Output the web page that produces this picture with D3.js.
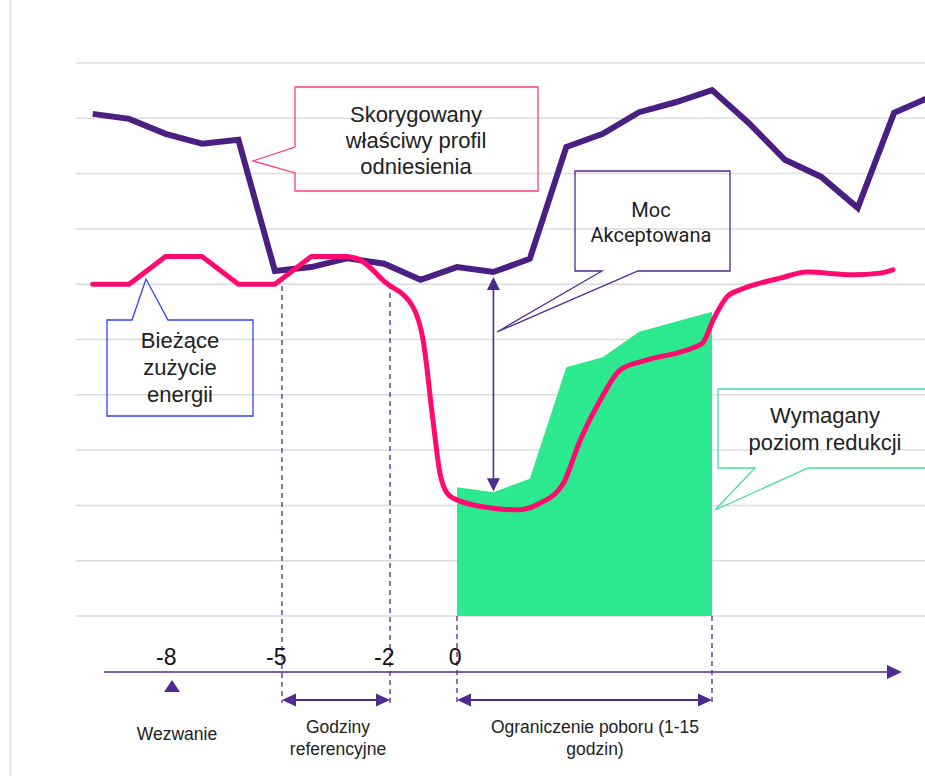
<!DOCTYPE html>
<html>
<head>
<meta charset="utf-8">
<script src="https://cdn.jsdelivr.net/npm/d3@7"></script>
<style>
body { margin: 0; background: #fff; overflow: hidden; }
text { font-family: "Liberation Sans", Arial, sans-serif; fill: #222; }
</style>
</head>
<body>
<svg class="chart"></svg>
<script>
var WIDTH = 925, HEIGHT = 776;
var PURPLE = "#4a1f82", LINE_PURPLE = "#4f2a8f", PINK = "#ff0a6e", GREEN = "#2ce88f";

// hours relative to start of the curtailment (0)
var adjustedHours = d3.range(-10, 14);
var adjustedValues = [9.08, 8.99, 8.72, 8.54, 8.61, 6.24, 6.31, 6.47, 6.37, 6.08, 6.31, 6.22, 6.46, 8.48, 8.72, 9.11, 9.29, 9.51, 8.92, 8.25, 7.94, 7.38, 9.10, 9.39];

var currentStepHours = [-10, -9, -8, -7, -6, -5, -4, -3];
var currentStepValues = [6.0, 6.0, 6.5, 6.5, 6.0, 6.0, 6.5, 6.5];
var currentCurveHours = [-3, -2.66, -1.98, -1.21, -0.93, -0.66, -0.47, -0.27, 0, 0.99, 1.65, 2.28, 2.92, 3.38, 3.93, 4.48, 5.22, 6.48, 6.75, 7.03, 7.41, 7.77, 8.32, 8.87, 9.61, 10.87, 11.61, 11.97];
var currentCurveValues = [6.5, 6.44, 6.04, 5.59, 4.99, 3.54, 2.59, 2.22, 2.1, 1.95, 1.92, 2.04, 2.4, 3.18, 3.9, 4.45, 4.63, 4.85, 4.94, 5.35, 5.77, 5.9, 6.02, 6.11, 6.22, 6.17, 6.2, 6.26];

var requiredHours = [0, 1, 2, 3, 4, 5, 6, 7];
var requiredValues = [2.33, 2.24, 2.48, 4.5, 4.68, 5.14, 5.32, 5.5];

var gridValues = [0, 1, 2, 3, 4, 5, 6, 7, 8, 9, 10];
var timelineTicks = [-8, -5, -2, 0];
var callHour = -8;
var referenceRange = [-5, -2];
var curtailRange = [0, 7];

var x = d3.scaleLinear().domain([0, 7]).range([457, 712]);
var y = d3.scaleLinear().domain([0, 10]).range([616, 63]);
// the timeline under the chart is not drawn quite evenly
var t = d3.scaleLinear().domain([-8, -5, -2, 0, 7]).range([172, 282, 390, 457, 712]);

var svg = d3.select(".chart").attr("width", WIDTH).attr("height", HEIGHT);

svg.append("line").attr("x1", 10.5).attr("x2", 10.5).attr("y1", 0).attr("y2", HEIGHT)
	.attr("stroke", "#e2e2e2").attr("stroke-width", 2);

// grid
svg.append("g").selectAll("line").data(gridValues).enter().append("line")
	.attr("x1", 76).attr("x2", WIDTH).attr("y1", d => y(d)).attr("y2", d => y(d))
	.attr("stroke", "#dcdcdc").attr("stroke-width", 1.5);

// required reduction level
var area = d3.area().x((d, i) => x(requiredHours[i])).y0(y(0)).y1(d => y(d));
svg.append("path").datum(requiredValues).attr("d", area).attr("fill", GREEN);

// dashed guides
var guides = [
	{ h: referenceRange[0], top: y(adjustedValues[adjustedHours.indexOf(-5)]) + 6 },
	{ h: referenceRange[1], top: y(currentCurveValues[2]) + 2 },
	{ h: curtailRange[0], top: y(0) },
	{ h: curtailRange[1], top: y(0) }
];
svg.append("g").selectAll("line").data(guides).enter().append("line")
	.attr("x1", d => t(d.h)).attr("x2", d => t(d.h)).attr("y1", d => d.top).attr("y2", 703)
	.attr("stroke", LINE_PURPLE).attr("stroke-width", 1.3).attr("stroke-dasharray", "5,4");

// adjusted reference profile
var line = d3.line().x((d, i) => x(adjustedHours[i])).y(d => y(d));
svg.append("path").datum(adjustedValues).attr("d", line).attr("fill", "none")
	.attr("stroke", PURPLE).attr("stroke-width", 6).attr("stroke-linejoin", "miter");

// current consumption
var stepLine = d3.line().x((d, i) => x(currentStepHours[i])).y(d => y(d));
var curveLine = d3.line().x((d, i) => x(currentCurveHours[i])).y(d => y(d)).curve(d3.curveMonotoneX);
svg.append("path").datum(currentStepValues).attr("d", stepLine).attr("fill", "none")
	.attr("stroke", PINK).attr("stroke-width", 5).attr("stroke-linejoin", "round").attr("stroke-linecap", "round");
svg.append("path").datum(currentCurveValues).attr("d", curveLine).attr("fill", "none")
	.attr("stroke", PINK).attr("stroke-width", 5).attr("stroke-linejoin", "round").attr("stroke-linecap", "round");

// accepted power arrow
var ax = x(1), aTop = y(adjustedValues[11]) + 5, aBot = y(requiredValues[1]) - 1;
svg.append("line").attr("x1", ax).attr("x2", ax).attr("y1", aTop + 10).attr("y2", aBot - 10)
	.attr("stroke", LINE_PURPLE).attr("stroke-width", 1.6);
svg.append("path").attr("fill", LINE_PURPLE)
	.attr("d", "M" + ax + "," + aTop + "l-6.5,13h13z M" + ax + "," + aBot + "l-6.5,-13h13z");

// callouts
var callouts = [
	{ stroke: "#ff3d85", d: "M295,87H538V191H295V173L253,161L295,147Z",
	  lines: ["Skorygowany", "właściwy profil", "odniesienia"], cx: 416, y0: 122, dy: 26, size: 22 },
	{ stroke: "#4f2a8f", d: "M575,171H730V271H638L497,332L602,271H575Z",
	  lines: ["Moc", "Akceptowana"], cx: 651, y0: 217, dy: 25, size: 20, font: "Roboto" },
	{ stroke: "#3340ff", d: "M107,320H132L146,279L168,320H253V416H107Z",
	  lines: ["Bieżące", "zużycie", "energii"], cx: 180, y0: 348, dy: 27, size: 22 },
	{ stroke: "#3ee29a", d: "M718,389H940V468H808L715,510L755,468H718Z",
	  lines: ["Wymagany", "poziom redukcji"], cx: 825, y0: 423, dy: 27, size: 22 }
];
var co = svg.append("g").selectAll("g").data(callouts).enter().append("g");
co.append("path").attr("d", d => d.d).attr("fill", "none").attr("stroke", d => d.stroke).attr("stroke-width", 1.3);
co.each(function(c) {
	d3.select(this).selectAll("text").data(c.lines).enter().append("text")
		.attr("x", c.cx).attr("y", (d, i) => c.y0 + i * c.dy)
		.attr("text-anchor", "middle").attr("font-size", c.size)
		.style("font-family", c.font ? c.font : null)
		.text(d => d);
});

// timeline
var TL = 672;
svg.append("line").attr("x1", 104).attr("x2", 889).attr("y1", TL).attr("y2", TL)
	.attr("stroke", LINE_PURPLE).attr("stroke-width", 1.6);
svg.append("path").attr("d", "M902," + TL + "l-15,-7v14z").attr("fill", LINE_PURPLE);

var axis = svg.append("g").attr("transform", "translate(0," + TL + ")")
	.call(d3.axisTop(t).tickValues(timelineTicks).tickSize(0).tickPadding(7).tickFormat(d => String(d)));
axis.select(".domain").remove();
axis.selectAll("text").attr("text-anchor", "end").attr("dx", 4)
	.style("font-size", "23px").style("fill", "#111");

// call marker
svg.append("path").attr("d", "M" + t(callHour) + "," + (TL + 8) + "l-8,12h16z").attr("fill", LINE_PURPLE);

// brackets
var brackets = [referenceRange, curtailRange];
var br = svg.append("g").selectAll("g").data(brackets).enter().append("g");
br.append("line").attr("x1", d => t(d[0]) + 8).attr("x2", d => t(d[1]) - 8).attr("y1", 700).attr("y2", 700)
	.attr("stroke", LINE_PURPLE).attr("stroke-width", 2);
br.append("path").attr("fill", LINE_PURPLE)
	.attr("d", d => "M" + t(d[0]) + ",700l14,-6.5v13z M" + t(d[1]) + ",700l-14,-6.5v13z");

// labels under timeline
var labels = [
	{ lines: ["Wezwanie"], cx: 177, y0: 740 },
	{ lines: ["Godziny", "referencyjne"], cx: 338, y0: 733 },
	{ lines: ["Ograniczenie poboru (1-15", "godzin)"], cx: 595, y0: 733 }
];
labels.forEach(l => {
	svg.append("g").selectAll("text").data(l.lines).enter().append("text")
		.attr("x", l.cx).attr("y", (d, i) => l.y0 + i * 22)
		.attr("text-anchor", "middle").attr("font-size", 17.5).text(d => d);
});
</script>
</body>
</html>
